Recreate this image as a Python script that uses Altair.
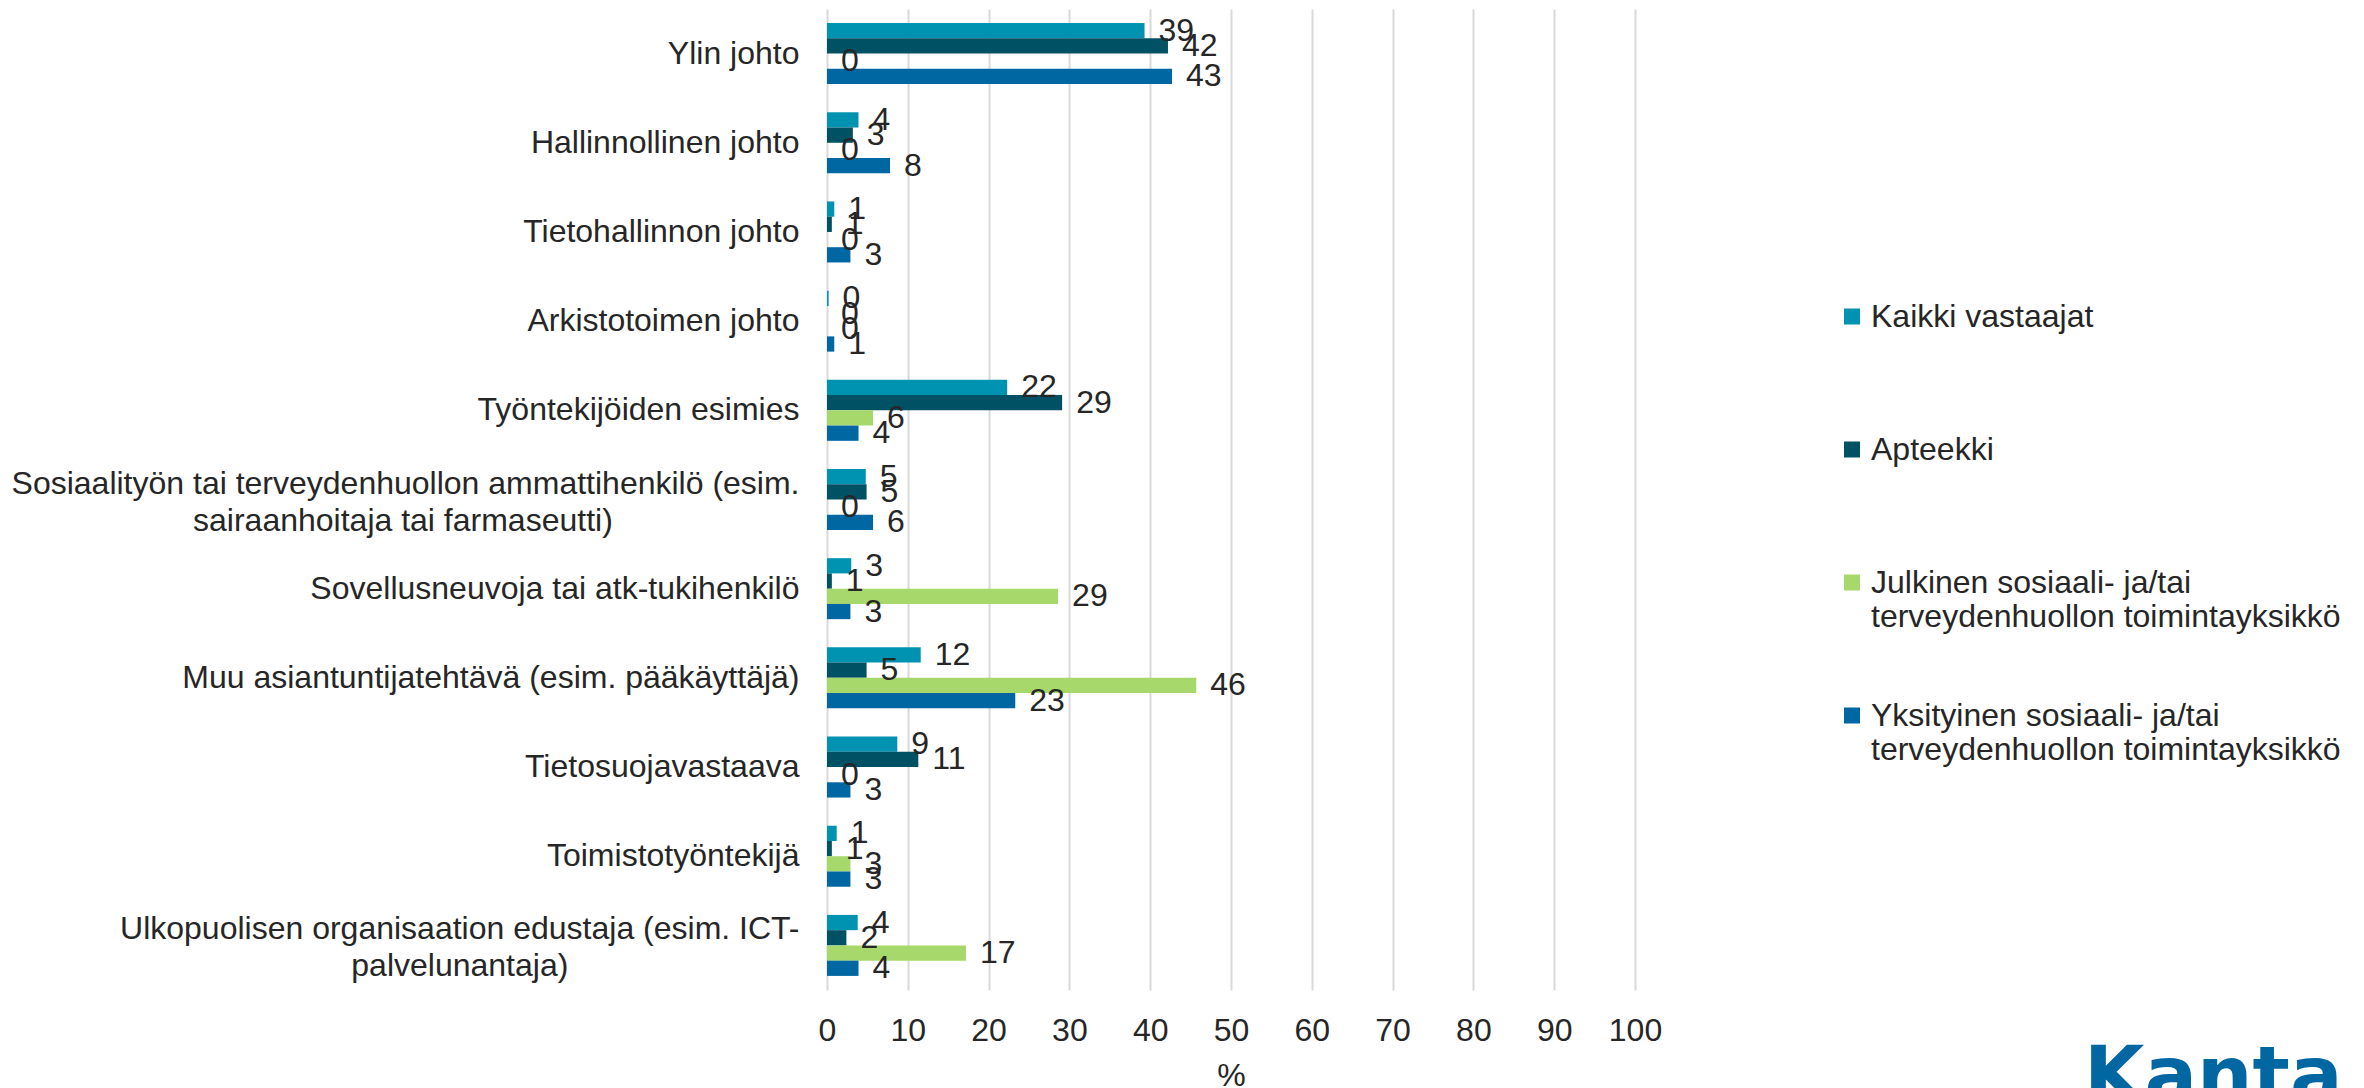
import altair as alt
import pandas as pd

# ---- data (percent) ----
categories = [
    "Ylin johto",
    "Hallinnollinen johto",
    "Tietohallinnon johto",
    "Arkistotoimen johto",
    "Työntekijöiden esimies",
    "Sosiaalityön tai terveydenhuollon ammattihenkilö (esim.\nsairaanhoitaja tai farmaseutti)",
    "Sovellusneuvoja tai atk-tukihenkilö",
    "Muu asiantuntijatehtävä (esim. pääkäyttäjä)",
    "Tietosuojavastaava",
    "Toimistotyöntekijä",
    "Ulkopuolisen organisaation edustaja (esim. ICT-\npalvelunantaja)",
]
series = [
    "Kaikki vastaajat",
    "Apteekki",
    "Julkinen sosiaali- ja/tai terveydenhuollon toimintayksikkö",
    "Yksityinen sosiaali- ja/tai terveydenhuollon toimintayksikkö",
]
kaikki = [39.3, 3.9, 0.9, 0.2, 22.3, 4.8, 3.0, 11.6, 8.7, 1.2, 3.8]
apteekki = [42.2, 3.2, 0.6, 0.0, 29.1, 4.9, 0.6, 4.9, 11.3, 0.6, 2.4]
julkinen = [0.0, 0.0, 0.0, 0.0, 5.7, 0.0, 28.6, 45.7, 0.0, 2.9, 17.2]
yksityinen = [42.7, 7.8, 2.9, 0.9, 3.9, 5.7, 2.9, 23.3, 2.9, 2.9, 3.9]
x_ticks = [0, 10, 20, 30, 40, 50, 60, 70, 80, 90, 100]
logo_text = ["Kanta"]

# ---- styling ----
FONT = "Liberation Sans"
TEXT = "#262626"
colors = ["#0092B1", "#005163", "#A7D86B", "#0067A3"]
NBSP = "\u00a0"
ZWSP = "\u200b"  # keeps the no-break spaces from being trimmed
# Excel centres the second line of a wrapped category label under the first;
# trailing no-break spaces give the right-aligned Vega label the same look.
second_line_pad = {5: 21, 10: 26}


def display(i, label):
    if "\n" in label and i in second_line_pad:
        return label + NBSP * second_line_pad[i] + ZWSP
    return label


shown = [display(i, c) for i, c in enumerate(categories)]

rows = []
for values, name in zip([kaikki, apteekki, julkinen, yksityinen], series):
    for cat, v in zip(shown, values):
        rows.append({"role": cat, "group": name, "value": v})
df = pd.DataFrame(rows)

y_enc = alt.Y(
    "role:N",
    sort=shown,
    scale=alt.Scale(paddingInner=0.316, paddingOuter=0.158),
    axis=alt.Axis(
        title=None,
        ticks=False,
        domain=False,
        grid=False,
        labelFont=FONT,
        labelFontSize=32,
        labelColor=TEXT,
        labelPadding=28,
        labelLimit=2000,
        labelLineHeight=37,
        labelOffset={
            "condition": {"test": "indexof(datum.value, '\\n') >= 0", "value": -16},
            "value": 0,
        },
        labelExpr="split(datum.label, '\\n')",
    ),
)
yoff = alt.YOffset("group:N", sort=series, scale=alt.Scale(paddingInner=0, paddingOuter=0))
x_enc = alt.X(
    "value:Q",
    scale=alt.Scale(domain=[0, 100], nice=False),
    axis=alt.Axis(
        values=x_ticks,
        title="%",
        titleFont=FONT,
        titleFontSize=32,
        titleFontWeight="normal",
        titleColor=TEXT,
        titlePadding=14,
        labelFont=FONT,
        labelFontSize=32,
        labelColor=TEXT,
        labelPadding=25,
        labelFlush=False,
        ticks=False,
        domain=False,
        grid=True,
        gridColor="#D9D9D9",
        gridWidth=2,
    ),
)

base = alt.Chart(df).encode(y=y_enc, yOffset=yoff, x=x_enc)

bars = base.mark_bar().encode(
    color=alt.Color(
        "group:N",
        sort=series,
        scale=alt.Scale(domain=series, range=colors),
        legend=alt.Legend(
            title=None,
            orient="none",
            legendX=1009,
            legendY=291.5,
            direction="vertical",
            symbolType="square",
            symbolSize=256,
            symbolStrokeWidth=0,
            labelFont=FONT,
            labelFontSize=32,
            labelColor=TEXT,
            labelLimit=2000,
            labelOffset=3,
            labelBaseline="middle",
            rowPadding=67,
            gridAlign="all",
            labelExpr="split(replace(datum.label, 'ja/tai ', 'ja/tai|'), '|')",
        ),
    )
)

labels = base.mark_text(
    align="left", baseline="middle", dx=14, font=FONT, fontSize=32, color=TEXT
).encode(text=alt.Text("value:Q", format=".0f"))

logo = (
    alt.Chart(pd.DataFrame({"logo": logo_text}))
    .mark_text(
        align="left",
        baseline="alphabetic",
        font="DejaVu Sans",
        fontSize=78,
        fontWeight="bold",
        color="#0067A3",
    )
    .encode(text="logo:N", x=alt.value(1257), y=alt.value(1093))
)

chart = (
    alt.layer(bars, labels, logo)
    .properties(
        width=808,
        height=981,
        padding={"left": 3, "top": 1, "right": 0, "bottom": 0},
        background="white",
    )
    .configure_view(stroke=None)
)

chart.save("out.html", embed_options={"renderer": "svg", "actions": False})
